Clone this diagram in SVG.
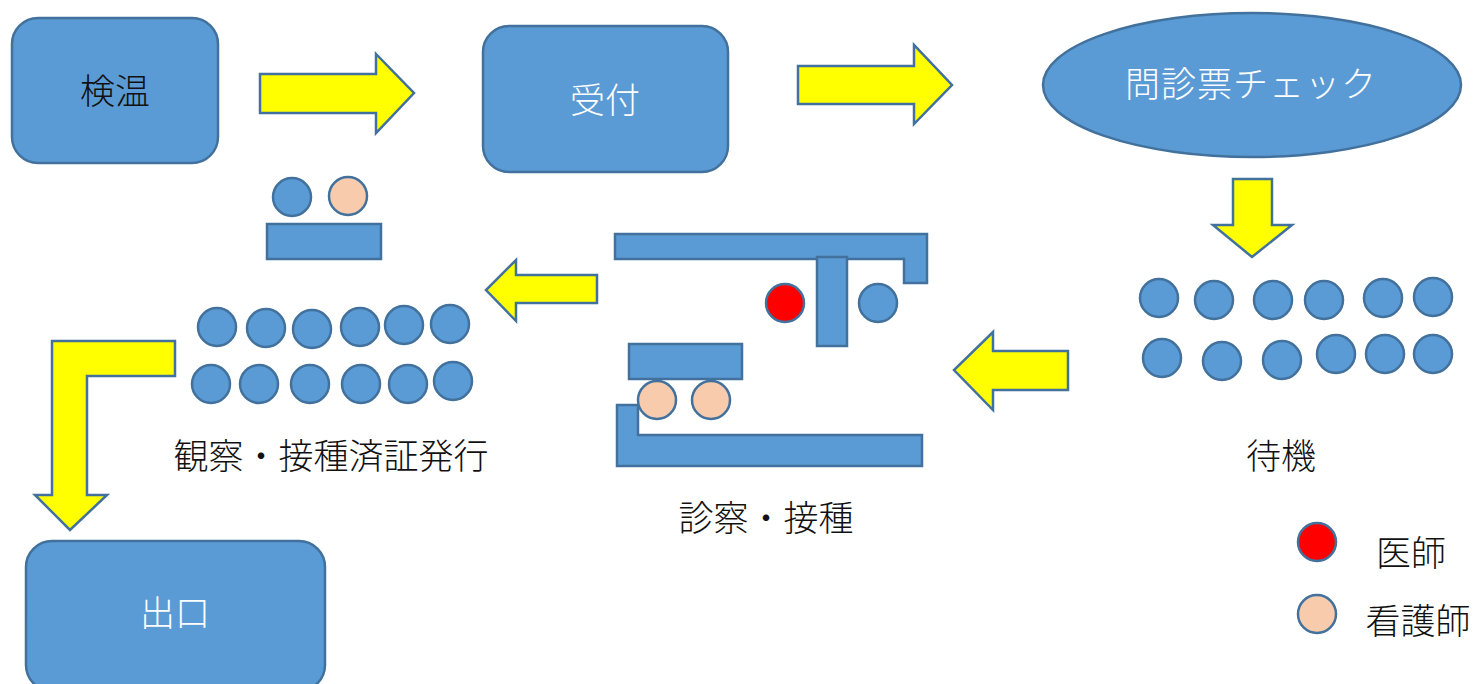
<svg xmlns="http://www.w3.org/2000/svg" width="1475" height="684" viewBox="0 0 1475 684">
<style>
.b{fill:#5B9BD5;stroke:#41719C;stroke-width:2.5}
.y{fill:#FFFF00;stroke:#41719C;stroke-width:2.5;stroke-linejoin:miter}
.r{fill:#FF0000;stroke:#41719C;stroke-width:2.5}
.p{fill:#F8CBAD;stroke:#41719C;stroke-width:2.5}
text{font-family:"Noto Sans CJK JP","Noto Sans CJK SC",sans-serif;font-size:35px;font-weight:300;text-anchor:middle;dominant-baseline:central}
.w{fill:#FFFFFF}
.k{fill:#111111}
</style>
<rect width="1475" height="684" fill="#FFFFFF"/>
<g id="connectors">
<polygon class="y" points="260,74 376,74 376,54 414,93 376,133 376,113 260,113"/>
<polygon class="y" points="798,66 914,66 914,45 952,85 914,124 914,104 798,104"/>
<polygon class="y" points="1233,179 1272,179 1272,225 1292,225 1252,257 1213,225 1233,225"/>
<polygon class="y" points="1068,351 1068,390 993,390 993,410 954,370 993,332 993,351"/>
<polygon class="y" points="597,275 597,303 516,303 516,321 486,290 516,260 516,275"/>
<polygon class="y" points="52,341 175,341 175,376 87,376 87,495 107,495 70,530 35,495 52,495"/>
</g>
<g id="node-kenon">
<rect class="b" x="12" y="18" width="206" height="145" rx="26"/>
<text class="k" x="115" y="88">検温</text>
</g>
<g id="node-uketsuke">
<rect class="b" x="483" y="26" width="245" height="146" rx="26"/>
<text class="w" x="605" y="97">受付</text>
</g>
<g id="node-monshin">
<ellipse class="b" cx="1252" cy="85" rx="209" ry="72"/>
<text class="w" x="1251" y="81" letter-spacing="1">問診票チェック</text>
</g>
<g id="node-taiki">
<circle class="b" cx="1159" cy="298" r="19"/>
<circle class="b" cx="1214" cy="300" r="19"/>
<circle class="b" cx="1273" cy="300" r="19"/>
<circle class="b" cx="1324" cy="300" r="19"/>
<circle class="b" cx="1383" cy="298" r="19"/>
<circle class="b" cx="1433" cy="297" r="19"/>
<circle class="b" cx="1162" cy="358" r="19"/>
<circle class="b" cx="1222" cy="361" r="19"/>
<circle class="b" cx="1282" cy="360" r="19"/>
<circle class="b" cx="1336" cy="354" r="19"/>
<circle class="b" cx="1385" cy="354" r="19"/>
<circle class="b" cx="1433" cy="354" r="19"/>
<text class="k" x="1281" y="453">待機</text>
</g>
<g id="node-shinsatsu">
<polygon class="b" points="615,234 927,234 927,283 904,283 904,259 615,259"/>
<rect class="b" x="817" y="257" width="30" height="89"/>
<circle class="r" cx="785" cy="303" r="19"/>
<circle class="b" cx="878" cy="303" r="19"/>
<rect class="b" x="629" y="344" width="113" height="35"/>
<polygon class="b" points="617,405 638,405 638,435 922,435 922,466 617,466"/>
<circle class="p" cx="657" cy="400" r="19"/>
<circle class="p" cx="711" cy="400" r="19"/>
<text class="k" x="766" y="515">診察・接種</text>
</g>
<g id="node-kansatsu">
<circle class="b" cx="292" cy="197" r="19"/>
<circle class="p" cx="348" cy="196" r="19"/>
<rect class="b" x="267" y="224" width="114" height="35"/>
<circle class="b" cx="217" cy="327" r="19"/>
<circle class="b" cx="266" cy="328" r="19"/>
<circle class="b" cx="312" cy="329" r="19"/>
<circle class="b" cx="360" cy="327" r="19"/>
<circle class="b" cx="404" cy="325" r="19"/>
<circle class="b" cx="450" cy="324" r="19"/>
<circle class="b" cx="211" cy="384" r="19"/>
<circle class="b" cx="259" cy="384" r="19"/>
<circle class="b" cx="310" cy="384" r="19"/>
<circle class="b" cx="361" cy="384" r="19"/>
<circle class="b" cx="408" cy="384" r="19"/>
<circle class="b" cx="453" cy="381" r="19"/>
<text class="k" x="331" y="453">観察・接種済証発行</text>
</g>
<g id="node-deguchi">
<rect class="b" x="26" y="541" width="299" height="150" rx="26"/>
<text class="w" x="175" y="610">出口</text>
</g>
<g id="legend">
<circle class="r" cx="1317" cy="542" r="19"/>
<text class="k" x="1411" y="550">医師</text>
<circle class="p" cx="1317" cy="614" r="19"/>
<text class="k" x="1418" y="618">看護師</text>
</g>
</svg>
